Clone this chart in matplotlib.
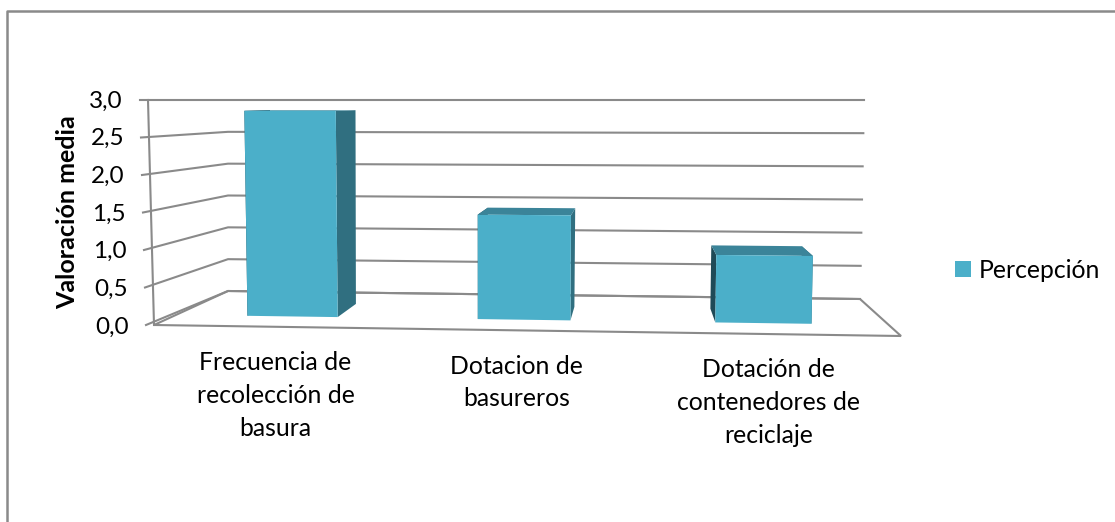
import matplotlib
matplotlib.use('Agg')
import matplotlib.pyplot as plt
from matplotlib.patches import Polygon, Patch

plt.rcParams['font.family'] = ['Lato', 'DejaVu Sans']

categories = ['Frecuencia de\nrecolección de\nbasura', 'Dotacion de\nbasureros',
              'Dotación de\ncontenedores de\nreciclaje']
values = [2.85, 1.43, 0.91]
y_ticks = [0.0, 0.5, 1.0, 1.5, 2.0, 2.5, 3.0]
y_labels = ['0,0', '0,5', '1,0', '1,5', '2,0', '2,5', '3,0']
series_name = 'Percepción'
y_title = 'Valoración media'

# corners of the 3d box in picture pixels: (left/right, front/back, bottom/top)
LFB, RFB, LBB, RBB = (154, 325), (901, 336), (228, 291), (860, 299)
LFT, RFT, LBT, RBT = (148, 100), (907, 100), (228, 100), (864, 100)

FRONT, SIDE, TOP, LEFT = '#4bafc9', '#306f80', '#3b8499', '#1f4a57'
GRID = '#8a8a8a'


def project(u, d, v):
    # u = category position 0..3, d = depth 0..1, v = value 0..3
    u, v = u / 3., v / 3.
    out = []
    for i in (0, 1):
        fb = LFB[i] + (RFB[i] - LFB[i]) * u
        bb = LBB[i] + (RBB[i] - LBB[i]) * u
        ft = LFT[i] + (RFT[i] - LFT[i]) * u
        bt = LBT[i] + (RBT[i] - LBT[i]) * u
        bottom = fb + (bb - fb) * d
        top = ft + (bt - ft) * d
        out.append(bottom + (top - bottom) * v)
    return out


fig = plt.figure(figsize=(11.15, 5.22), dpi=100)
ax = fig.add_axes([0, 0, 1, 1])
ax.set_xlim(0, 1115)
ax.set_ylim(522, 0)
ax.axis('off')

# chart frame
ax.plot([7, 7, 1115], [522, 11, 11], color=GRID, lw=1.8)

# walls and grid
for t in y_ticks:
    a = project(0, 0, t)
    b = project(0, 1, t)
    c = project(3, 1, t)
    ax.plot([a[0] - 8, b[0], c[0]], [a[1], b[1], c[1]], color=GRID, lw=1.5)
a, b = project(0, 0, 0), project(0, 0, 3)
ax.plot([a[0], b[0]], [a[1], b[1]], color=GRID, lw=1.5)
floor = [project(0, 0, 0), project(3, 0, 0), project(3, 1, 0), project(0, 1, 0)]
ax.add_patch(Polygon(floor, closed=True, fill=False, edgecolor=GRID, lw=1.5))

# bars
bar_left = [0.30, 1.27, 2.27]
bar_right = [0.68, 1.66, 2.675]
d0, d1 = 0.3, 0.68
for l, r, val in zip(bar_left, bar_right, values):
    ax.add_patch(Polygon([project(l, d0, 0), project(l, d1, 0), project(l, d1, val), project(l, d0, val)],
                         color=LEFT, lw=0, zorder=3))
    ax.add_patch(Polygon([project(r, d0, 0), project(r, d1, 0), project(r, d1, val), project(r, d0, val)],
                         color=SIDE, lw=0, zorder=3))
    ax.add_patch(Polygon([project(l, d0, val), project(r, d0, val), project(r, d1, val), project(l, d1, val)],
                         color=TOP, lw=0, zorder=4))
    ax.add_patch(Polygon([project(l, d0, 0), project(r, d0, 0), project(r, d0, val), project(l, d0, val)],
                         color=FRONT, lw=0, zorder=5))

# tick labels
for t, lab in zip(y_ticks, y_labels):
    p = project(0, 0, t)
    ax.text(p[0] - 25, p[1] + 1 + (3 - t) / 3, lab, ha='right', va='center', fontsize=17.5, color='black')
label_dx = [-3, -11, -8]
for i, lab in enumerate(categories):
    p = project(i + 0.5, 0, 0)
    ax.text(p[0] + label_dx[i], p[1] + 24, lab, ha='center', va='top', fontsize=17.8,
            color='black', linespacing=1.52)

ax.text(68, 212, y_title, rotation=90, ha='center', va='center', fontsize=18,
        fontweight='bold', color='black')

ax.legend(handles=[Patch(color=FRONT, lw=0, label=series_name)], loc='center left',
          bbox_to_anchor=(933, 270), bbox_transform=ax.transData, frameon=False,
          fontsize=17.8, handlelength=0.62, handleheight=0.62, handletextpad=0.35)

fig.savefig('out.png', dpi=100)
